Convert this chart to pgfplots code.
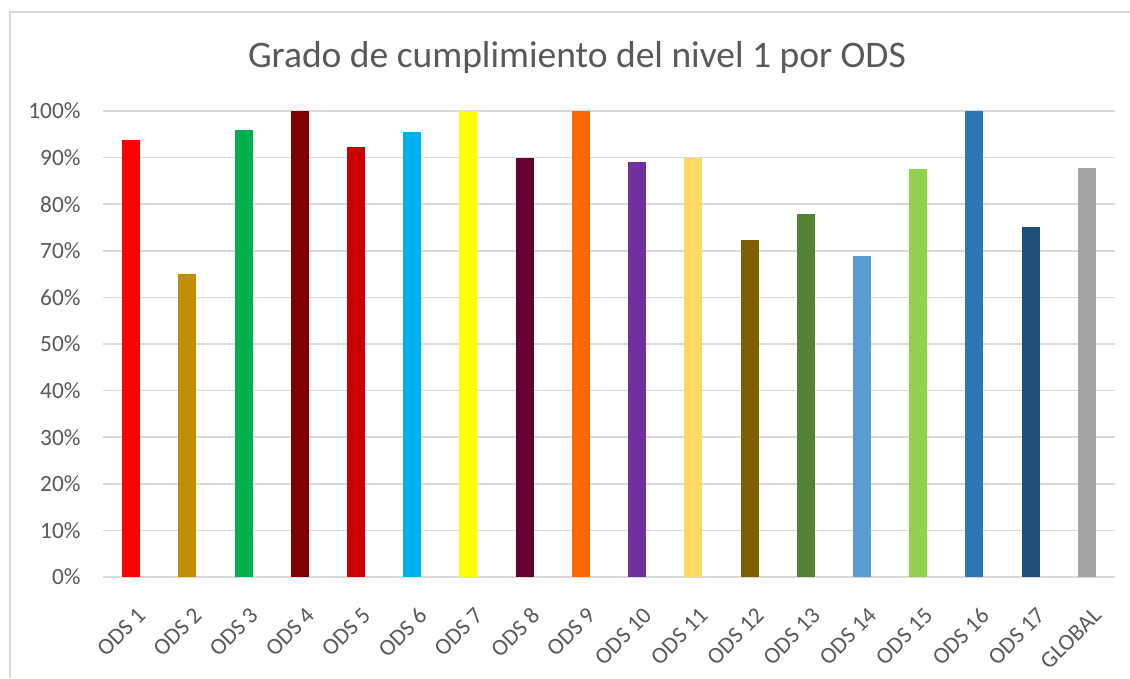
\documentclass[border=0pt]{standalone}
\usepackage{fontspec}
\setmainfont{Carlito}
\usepackage{pgfplots}
\pgfplotsset{compat=1.18}
\definecolor{txtgray}{HTML}{595959}
\definecolor{gridgray}{HTML}{D9D9D9}
\definecolor{c1}{HTML}{FF0000}
\definecolor{c2}{HTML}{BF8F00}
\definecolor{c3}{HTML}{00B050}
\definecolor{c4}{HTML}{800000}
\definecolor{c5}{HTML}{CC0000}
\definecolor{c6}{HTML}{00B0F0}
\definecolor{c7}{HTML}{FFFF00}
\definecolor{c8}{HTML}{660033}
\definecolor{c9}{HTML}{FF6600}
\definecolor{c10}{HTML}{7030A0}
\definecolor{c11}{HTML}{FFD966}
\definecolor{c12}{HTML}{7F6000}
\definecolor{c13}{HTML}{548235}
\definecolor{c14}{HTML}{5B9BD5}
\definecolor{c15}{HTML}{92D050}
\definecolor{c16}{HTML}{2E75B6}
\definecolor{c17}{HTML}{1F4E79}
\definecolor{c18}{HTML}{A5A5A5}
\begin{document}
\begin{tikzpicture}[x=1pt,y=1pt]
\useasboundingbox (0,0) rectangle (1130,678);
\draw[color=gridgray, line width=1.5pt] (10,0) -- (10,666) -- (1130,666);
\node[text=txtgray, font=\fontsize{37.5}{45}\selectfont] at (577,620) {Grado de cumplimiento del nivel 1 por ODS};
\begin{axis}[
  at={(103pt,101pt)}, anchor=south west,
  scale only axis, width=1012pt, height=466pt,
  xmin=-0.5, xmax=17.5, ymin=0, ymax=100,
  ybar, bar width=18pt, bar shift=0pt,
  axis line style={draw=none},
  major tick length=0pt,
  ymajorgrids, grid style={color=gridgray, line width=1.6pt},
  ytick={0,10,...,100},
  yticklabel={\pgfmathprintnumber[assume math mode=true]{\tick}\%},
  yticklabel style={text=txtgray, font=\fontsize{23.3}{28}\selectfont, anchor=east, xshift=-19pt},
  xtick={0,...,17},
  xticklabels={ODS 1,ODS 2,ODS 3,ODS 4,ODS 5,ODS 6,ODS 7,ODS 8,ODS 9,ODS 10,ODS 11,ODS 12,ODS 13,ODS 14,ODS 15,ODS 16,ODS 17,GLOBAL},
  xticklabel style={text=txtgray, font=\fontsize{23.3}{28}\selectfont, xshift=5pt, yshift=-29pt, rotate=45, anchor=north east, inner sep=0pt},
  clip=false,
]
\addplot[fill=c1, draw=none] coordinates {(0,93.7)};
\addplot[fill=c2, draw=none] coordinates {(1,65.0)};
\addplot[fill=c3, draw=none] coordinates {(2,95.9)};
\addplot[fill=c4, draw=none] coordinates {(3,100)};
\addplot[fill=c5, draw=none] coordinates {(4,92.2)};
\addplot[fill=c6, draw=none] coordinates {(5,95.4)};
\addplot[fill=c7, draw=none] coordinates {(6,100)};
\addplot[fill=c8, draw=none] coordinates {(7,90.0)};
\addplot[fill=c9, draw=none] coordinates {(8,100)};
\addplot[fill=c10, draw=none] coordinates {(9,89.0)};
\addplot[fill=c11, draw=none] coordinates {(10,90.0)};
\addplot[fill=c12, draw=none] coordinates {(11,72.3)};
\addplot[fill=c13, draw=none] coordinates {(12,77.9)};
\addplot[fill=c14, draw=none] coordinates {(13,68.9)};
\addplot[fill=c15, draw=none] coordinates {(14,87.5)};
\addplot[fill=c16, draw=none] coordinates {(15,100)};
\addplot[fill=c17, draw=none] coordinates {(16,75.0)};
\addplot[fill=c18, draw=none] coordinates {(17,87.7)};
\end{axis}
\end{tikzpicture}
\end{document}
